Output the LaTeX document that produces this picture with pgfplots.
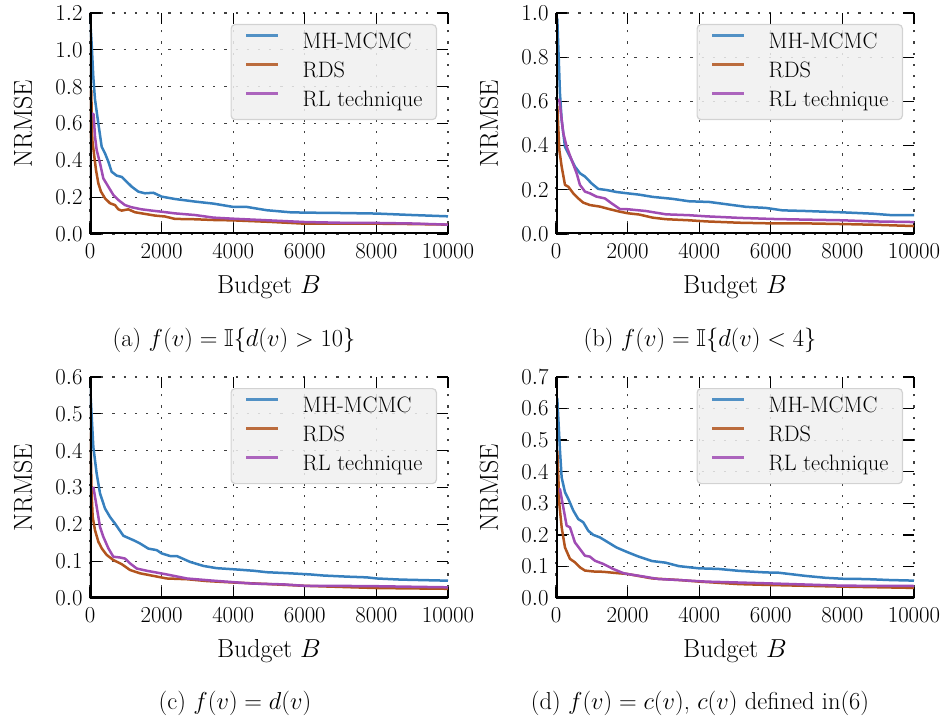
\documentclass[border=0pt]{standalone}
\IfFileExists{fix-cm.sty}{\usepackage{fix-cm}}{}
\usepackage{amssymb}
\usepackage{fontspec}
\usepackage{pgfplots}
\pgfplotsset{compat=1.18}
\definecolor{cblue}{HTML}{3780BE}
\definecolor{cbrown}{HTML}{B2541E}
\definecolor{cpurple}{HTML}{A04CB4}
\definecolor{legfill}{HTML}{F0F0F0}
\definecolor{legdraw}{HTML}{CCCCCC}
\newcommand{\tickfont}{\fontsize{22.8}{26}\selectfont}
\newcommand{\legfont}{\fontsize{22.3}{26}\selectfont}
\newcommand{\capfont}{\fontsize{24.5}{28}\selectfont}
\newcommand{\labfont}{\fontsize{26}{30}\selectfont}
\pgfplotsset{
  myax/.style={
    scale only axis, width=358pt, height=221pt,
    xmin=0, xmax=10000, ymin=0,
    xtick={0,2000,4000,6000,8000,10000},
    scaled x ticks=false, scaled y ticks=false,
    xticklabel style={/pgf/number format/fixed, /pgf/number format/1000 sep={}, yshift=-6pt},
    yticklabel style={/pgf/number format/fixed, /pgf/number format/fixed zerofill, /pgf/number format/precision=1, xshift=-4pt},
    tick label style={font=\tickfont},
    axis line style={draw=none},
    tick align=inside, major tick length=11pt,
    tick style={black, line width=1.3pt},
    grid=major,
    major grid style={black!75, line width=1.2pt, dash pattern=on 2.2pt off 9pt},
    xlabel={Budget $B$}, ylabel={NRMSE},
    every axis x label/.style={at={(axis description cs:0.5,-0.24)}, anchor=center, font=\labfont},
    every axis y label/.style={at={(axis description cs:-0.187,0.5)}, rotate=90, anchor=center, font=\labfont},
    legend cell align=left,
    legend image code/.code={\draw[##1] (0pt,7.5pt) -- (32pt,7.5pt);},
    legend style={at={(1,1)}, anchor=north east, xshift=-11pt, yshift=-11pt,
      fill=legfill, draw=legdraw, line width=1.2pt, rounded corners=4pt,
      fill opacity=0.85, draw opacity=0.85, text opacity=1,
      inner xsep=14pt, inner ysep=8.5pt, row sep=9pt, column sep=23pt,
      font=\legfont,
      nodes={inner sep=0pt, text height=15.5pt, text depth=4.5pt}},
    every axis plot/.append style={line width=2.5pt, line join=round},
  },
}
\newcommand{\spines}{\draw[black, line width=3.4pt, line cap=rect] (rel axis cs:0,1) -- (rel axis cs:0,0) -- (rel axis cs:1,0);}
\begin{document}
\begin{tikzpicture}
\useasboundingbox (0pt,0pt) rectangle (946pt,721pt);
% (a)
\begin{axis}[myax, at={(90pt,487pt)}, anchor=south west, ymax=1.2,
  ytick={0,0.2,0.4,0.6,0.8,1.0,1.2}]
\addplot[cblue] coordinates {(0,1.18) (47,1.03) (93,0.85) (140,0.73) (233,0.60) (326,0.474) (419,0.438) (512,0.393) (605,0.338) (745,0.317) (885,0.31) (1024,0.284) (1164,0.257) (1350,0.23) (1536,0.221) (1770,0.224) (2000,0.203) (2374,0.19) (2933,0.176) (3445,0.165) (4000,0.147) (4380,0.147) (4940,0.129) (5590,0.118) (6000,0.116) (7000,0.114) (8000,0.111) (9000,0.103) (10000,0.096)};
\addlegendentry{MH-MCMC}
\addplot[cbrown] coordinates {(15,0.52) (35,0.78) (65,0.51) (121,0.42) (168,0.347) (233,0.275) (307,0.23) (419,0.194) (558,0.167) (698,0.157) (791,0.134) (885,0.127) (1070,0.134) (1257,0.118) (1536,0.109) (1815,0.1) (2095,0.095) (2374,0.082) (2933,0.08) (3445,0.076) (4000,0.074) (5000,0.066) (6000,0.056) (7000,0.056) (8000,0.056) (9000,0.054) (10000,0.051)};
\addlegendentry{RDS}
\addplot[cpurple] coordinates {(50,0.655) (100,0.65) (140,0.53) (186,0.456) (280,0.384) (372,0.302) (512,0.257) (652,0.212) (790,0.185) (977,0.157) (1164,0.145) (1443,0.134) (1723,0.127) (2000,0.121) (2374,0.112) (2933,0.103) (3445,0.089) (4000,0.083) (5000,0.074) (6000,0.065) (7000,0.061) (8000,0.06) (9000,0.057) (10000,0.051)};
\addlegendentry{RL technique}
\spines
\end{axis}
% (b)
\begin{axis}[myax, at={(556pt,487pt)}, anchor=south west, ymax=1.0,
  ytick={0,0.2,0.4,0.6,0.8,1.0}]
\addplot[cblue] coordinates {(0,0.99) (37,0.97) (111,0.636) (158,0.516) (251,0.395) (390,0.35) (529,0.305) (669,0.275) (808,0.26) (994,0.229) (1180,0.204) (1412,0.199) (1690,0.19) (2000,0.184) (2326,0.178) (2698,0.168) (3256,0.159) (3721,0.148) (4279,0.145) (4744,0.135) (5302,0.123) (5860,0.118) (6326,0.107) (6977,0.104) (8000,0.098) (8837,0.092) (9395,0.085) (10000,0.085)};
\addlegendentry{MH-MCMC}
\addplot[cbrown] coordinates {(37,0.58) (93,0.38) (158,0.305) (251,0.222) (344,0.214) (483,0.184) (622,0.161) (761,0.142) (947,0.131) (1226,0.124) (1504,0.112) (1783,0.101) (2000,0.094) (2326,0.088) (2698,0.074) (3070,0.067) (3721,0.062) (4186,0.057) (5116,0.051) (6047,0.048) (6977,0.048) (8000,0.045) (8837,0.042) (10000,0.036)};
\addlegendentry{RDS}
\addplot[cpurple] coordinates {(60,0.61) (93,0.606) (204,0.456) (297,0.395) (437,0.335) (576,0.275) (669,0.222) (808,0.192) (947,0.184) (1133,0.169) (1365,0.161) (1551,0.139) (1783,0.113) (2000,0.112) (2512,0.104) (3070,0.089) (3721,0.085) (4186,0.08) (5116,0.073) (6047,0.068) (6977,0.065) (8000,0.062) (8837,0.057) (10000,0.054)};
\addlegendentry{RL technique}
\spines
\end{axis}
% (c)
\begin{axis}[myax, at={(90pt,123pt)}, anchor=south west, ymax=0.6,
  ytick={0,0.1,0.2,0.3,0.4,0.5,0.6}]
\addplot[cblue] coordinates {(0,0.58) (93,0.41) (186,0.338) (280,0.284) (419,0.243) (559,0.22) (699,0.202) (932,0.169) (1212,0.157) (1398,0.148) (1631,0.134) (1864,0.13) (2004,0.121) (2237,0.114) (2423,0.114) (2796,0.098) (3169,0.087) (3541,0.081) (4007,0.078) (4567,0.074) (4940,0.07) (5592,0.067) (6151,0.064) (6524,0.061) (7176,0.058) (7735,0.056) (8015,0.053) (8667,0.05) (10000,0.047)};
\addlegendentry{MH-MCMC}
\addplot[cbrown] coordinates {(10,0.45) (47,0.28) (75,0.22) (140,0.184) (233,0.153) (326,0.135) (466,0.117) (652,0.103) (885,0.092) (1118,0.076) (1398,0.067) (1771,0.06) (2144,0.053) (2703,0.051) (3262,0.046) (4007,0.042) (4940,0.038) (6011,0.033) (8015,0.027) (10000,0.025)};
\addlegendentry{RDS}
\addplot[cpurple] coordinates {(93,0.302) (186,0.248) (280,0.193) (373,0.166) (513,0.135) (652,0.112) (839,0.11) (979,0.107) (1118,0.094) (1305,0.08) (1584,0.074) (1864,0.069) (2144,0.064) (2703,0.053) (3448,0.047) (4007,0.043) (4567,0.039) (5405,0.037) (6011,0.033) (6803,0.033) (8015,0.032) (10000,0.029)};
\addlegendentry{RL technique}
\spines
\end{axis}
% (d)
\begin{axis}[myax, at={(556pt,123pt)}, anchor=south west, ymax=0.7,
  ytick={0,0.1,0.2,0.3,0.4,0.5,0.6,0.7}]
\addplot[cblue] coordinates {(0,0.64) (37,0.63) (111,0.467) (158,0.382) (251,0.335) (344,0.314) (483,0.277) (622,0.25) (761,0.24) (901,0.213) (1040,0.2) (1226,0.192) (1458,0.176) (1690,0.16) (2000,0.145) (2311,0.131) (2684,0.117) (3057,0.112) (3430,0.101) (3989,0.094) (4548,0.092) (5107,0.086) (5852,0.081) (6225,0.08) (6971,0.07) (7530,0.064) (7996,0.061) (8649,0.06) (9301,0.057) (10000,0.055)};
\addlegendentry{MH-MCMC}
\addplot[cbrown] coordinates {(37,0.467) (93,0.298) (158,0.224) (251,0.16) (390,0.124) (529,0.113) (669,0.097) (808,0.087) (1040,0.084) (1319,0.083) (1690,0.079) (2000,0.076) (2684,0.062) (3430,0.057) (3989,0.052) (5107,0.044) (6039,0.041) (7996,0.036) (10000,0.032)};
\addlegendentry{RDS}
\addplot[cpurple] coordinates {(90,0.345) (111,0.345) (204,0.287) (297,0.229) (390,0.224) (529,0.176) (669,0.155) (808,0.134) (947,0.131) (1087,0.118) (1319,0.108) (1597,0.092) (1876,0.079) (2000,0.076) (2498,0.067) (2870,0.06) (3430,0.057) (4175,0.052) (5107,0.049) (6039,0.046) (7996,0.039) (10000,0.038)};
\addlegendentry{RL technique}
\spines
\end{axis}
% captions
\node[anchor=base, font=\capfont] at (234pt,374.5pt) {(a) $f(v) = \mathbb{I}\{d(v) > 10\}$};
\node[anchor=base, font=\capfont] at (700pt,374.5pt) {(b) $f(v) = \mathbb{I}\{d(v) < 4\}$};
\node[anchor=base, font=\capfont] at (235pt,11.5pt) {(c) $f(v) = d(v)$};
\node[anchor=base, font=\capfont] at (700pt,11.5pt) {(d) $f(v) = c(v)$, $c(v)$ defined in(6)};
\end{tikzpicture}
\end{document}
